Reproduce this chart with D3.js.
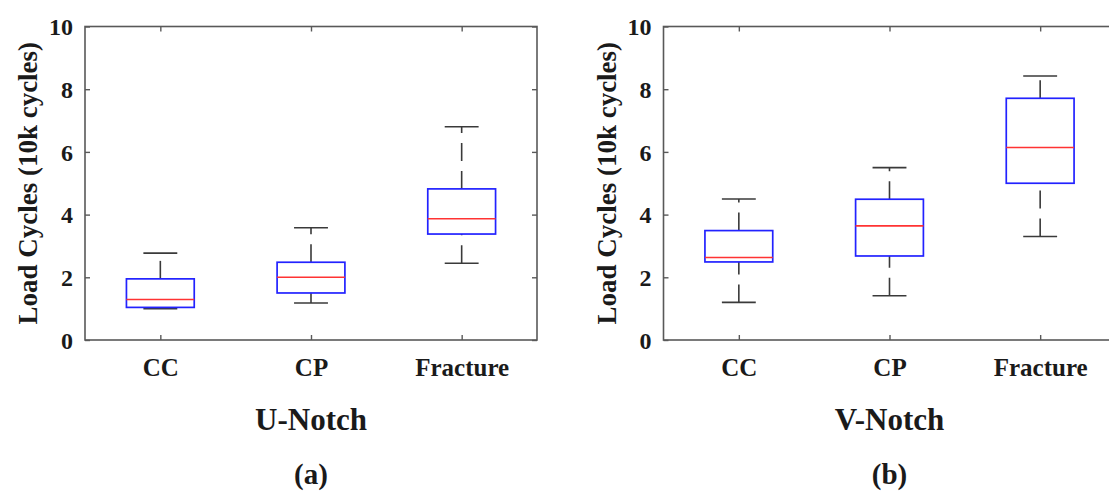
<!DOCTYPE html>
<html>
<head>
<meta charset="utf-8">
<script src="https://cdn.jsdelivr.net/npm/d3@7"></script>
<style>
  html, body { margin: 0; padding: 0; background: #fff; }
  svg { display: block; }
  text { font-family: "Liberation Serif", "Times New Roman", serif; font-weight: bold; fill: #1a1a1a; }
</style>
</head>
<body>
<svg id="chart" width="1109" height="492"></svg>
<script>
// ---- data ----
const categories = ["CC", "CP", "Fracture"];
const yTicks = [0, 2, 4, 6, 8, 10];
const yLabel = "Load Cycles (10k cycles)";
const panelTitles = ["U-Notch", "V-Notch"];
const panelTags = ["(a)", "(b)"];

// U-Notch
const uMin = [1.00, 1.18, 2.45];
const uQ1  = [1.04, 1.50, 3.38];
const uMed = [1.29, 2.00, 3.87];
const uQ3  = [1.95, 2.48, 4.82];
const uMax = [2.77, 3.58, 6.80];

// V-Notch
const vMin = [1.20, 1.41, 3.30];
const vQ1  = [2.49, 2.68, 5.00];
const vMed = [2.63, 3.64, 6.14];
const vQ3  = [3.49, 4.49, 7.71];
const vMax = [4.50, 5.50, 8.42];

const panels = [
  { min: uMin, q1: uQ1, med: uMed, q3: uQ3, max: uMax, title: panelTitles[0], tag: panelTags[0], left: 85 },
  { min: vMin, q1: vQ1, med: vMed, q3: vQ3, max: vMax, title: panelTitles[1], tag: panelTags[1], left: 663.5 }
];

// ---- layout ----
const plotW = 452, plotTop = 26.5, plotBottom = 340;
const boxW = 0.45, capW = 0.225;
const svg = d3.select("#chart");

panels.forEach(p => {
  const g = svg.append("g");
  const x = d3.scaleLinear().domain([0.5, 3.5]).range([p.left, p.left + plotW]);
  const y = d3.scaleLinear().domain([0, 10]).range([plotBottom, plotTop]);
  const pos = categories.map((c, i) => i + 1);

  // frame
  g.append("rect")
    .attr("x", x(0.5)).attr("y", y(10))
    .attr("width", x(3.5) - x(0.5)).attr("height", y(0) - y(10))
    .attr("fill", "none").attr("stroke", "#595959").attr("stroke-width", 1.6);

  // axes with inward ticks
  const axL = g.append("g").attr("transform", `translate(${x(0.5)},0)`)
    .call(d3.axisLeft(y).tickValues(yTicks).tickSizeInner(-5).tickSizeOuter(0).tickPadding(12).tickFormat(d3.format("d")));
  const axR = g.append("g").attr("transform", `translate(${x(3.5)},0)`)
    .call(d3.axisRight(y).tickValues(yTicks).tickSizeInner(-5).tickSizeOuter(0).tickFormat(""));
  const axB = g.append("g").attr("transform", `translate(0,${y(0)})`)
    .call(d3.axisBottom(x).tickValues(pos).tickSizeInner(-5).tickSizeOuter(0).tickPadding(18)
      .tickFormat((d, i) => categories[i]));
  const axT = g.append("g").attr("transform", `translate(0,${y(10)})`)
    .call(d3.axisTop(x).tickValues(pos).tickSizeInner(-5).tickSizeOuter(0).tickFormat(""));
  [axL, axR, axB, axT].forEach(a => {
    a.select(".domain").remove();
    a.selectAll(".tick line").attr("stroke", "#595959").attr("stroke-width", 1.4);
  });
  axL.selectAll(".tick text").style("font-size", "24px").attr("fill", "#1a1a1a")
    .attr("font-family", null).attr("dy", "0.34em");
  axB.selectAll(".tick text").style("font-size", "25px").attr("fill", "#1a1a1a")
    .attr("font-family", null).attr("dy", "0.71em");

  // y label
  g.append("text")
    .attr("transform", `translate(${p.left - 57},${(plotTop + plotBottom) / 2}) rotate(-90)`)
    .attr("text-anchor", "middle").attr("dy", "0.35em")
    .style("font-size", "27px").text(yLabel);

  // boxes
  const items = categories.map((c, i) => ({
    pos: i + 1, min: p.min[i], q1: p.q1[i], med: p.med[i], q3: p.q3[i], max: p.max[i]
  }));
  const bg = g.selectAll("g.box").data(items).join("g").attr("class", "box");

  // whiskers (dashed): upper q3 -> max, lower min -> q1
  bg.append("line")
    .attr("x1", d => x(d.pos)).attr("x2", d => x(d.pos))
    .attr("y1", d => y(d.q3)).attr("y2", d => y(d.max))
    .attr("stroke", "#3a3a3a").attr("stroke-width", 1.6).attr("stroke-dasharray", "18,10");
  bg.append("line")
    .attr("x1", d => x(d.pos)).attr("x2", d => x(d.pos))
    .attr("y1", d => y(d.min)).attr("y2", d => y(d.q1))
    .attr("stroke", "#3a3a3a").attr("stroke-width", 1.6).attr("stroke-dasharray", "18,10");
  // caps
  ["max", "min"].forEach(k => {
    bg.append("line")
      .attr("x1", d => x(d.pos - capW / 2)).attr("x2", d => x(d.pos + capW / 2))
      .attr("y1", d => y(d[k])).attr("y2", d => y(d[k]))
      .attr("stroke", "#3a3a3a").attr("stroke-width", 1.6);
  });
  // box
  bg.append("rect")
    .attr("x", d => x(d.pos - boxW / 2)).attr("width", d => x(d.pos + boxW / 2) - x(d.pos - boxW / 2))
    .attr("y", d => y(d.q3)).attr("height", d => y(d.q1) - y(d.q3))
    .attr("fill", "none").attr("stroke", "#2222ff").attr("stroke-width", 1.7);
  // median
  bg.append("line")
    .attr("x1", d => x(d.pos - boxW / 2)).attr("x2", d => x(d.pos + boxW / 2))
    .attr("y1", d => y(d.med)).attr("y2", d => y(d.med))
    .attr("stroke", "#ff3333").attr("stroke-width", 1.6);

  // titles
  const cx = x(2);
  g.append("text").attr("x", cx).attr("y", 430).attr("text-anchor", "middle")
    .style("font-size", "31px").text(p.title);
  g.append("text").attr("x", cx).attr("y", 484).attr("text-anchor", "middle")
    .style("font-size", "29px").text(p.tag);
});
</script>
</body>
</html>
